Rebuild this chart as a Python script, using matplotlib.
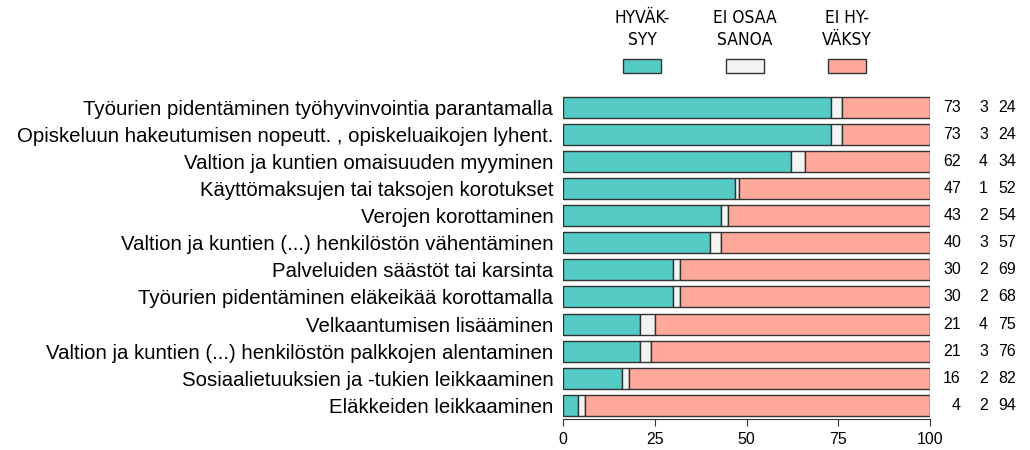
import matplotlib
matplotlib.use("Agg")
import matplotlib.pyplot as plt
import numpy as np
from matplotlib.transforms import blended_transform_factory

categories = [
    "Työurien pidentäminen työhyvinvointia parantamalla",
    "Opiskeluun hakeutumisen nopeutt. , opiskeluaikojen lyhent.",
    "Valtion ja kuntien omaisuuden myyminen",
    "Käyttömaksujen tai taksojen korotukset",
    "Verojen korottaminen",
    "Valtion ja kuntien (...) henkilöstön vähentäminen",
    "Palveluiden säästöt tai karsinta",
    "Työurien pidentäminen eläkeikää korottamalla",
    "Velkaantumisen lisääminen",
    "Valtion ja kuntien (...) henkilöstön palkkojen alentaminen",
    "Sosiaalietuuksien ja -tukien leikkaaminen",
    "Eläkkeiden leikkaaminen",
]
hyvaksyy = [73, 73, 62, 47, 43, 40, 30, 30, 21, 21, 16, 4]
ei_osaa = [3, 3, 4, 1, 2, 3, 2, 2, 4, 3, 2, 2]
ei_hyvaksy = [24, 24, 34, 52, 54, 57, 69, 68, 75, 76, 82, 94]
legend_labels = ["HYVÄK-\nSYY", "EI OSAA\nSANOA", "EI HY-\nVÄKSY"]
colors = ["#55CBC5", "#F3F3F3", "#FFA99B"]
xticks = [0, 25, 50, 75, 100]

plt.rcParams['font.family'] = ['Liberation Sans', 'DejaVu Sans']

W, H = 1030, 450
fig = plt.figure(figsize=(W / 100, H / 100), dpi=100)
ax_top, ax_bot = 93.5, 419
ax = fig.add_axes([563 / W, (H - ax_bot) / H, (930 - 563) / W, (ax_bot - ax_top) / H])

n = len(categories)
y = np.arange(n)
a = np.array(hyvaksyy, float)
b = np.array(ei_osaa, float)
total = 100.0
c_w = total - a - b
h = 0.77
ec = "#333333"
ax.barh(y, a, height=h, color=colors[0], edgecolor=ec, linewidth=1)
ax.barh(y, b, left=a, height=h, color=colors[1], edgecolor=ec, linewidth=1)
ax.barh(y, c_w, left=a + b, height=h, color=colors[2], edgecolor=ec, linewidth=1)

ax.set_xlim(0, 100)
ax.set_ylim(n - 0.5, -0.5)
for s in ["top", "right", "left"]:
    ax.spines[s].set_visible(False)
ax.spines["bottom"].set_bounds(0, 100)
ax.spines["bottom"].set_color("#333333")
ax.set_xticks(xticks)
ax.set_xticklabels([str(t) for t in xticks], fontsize=11.5)
ax.tick_params(axis="x", length=5, color="#333333", pad=4)
ax.set_yticks(y)
ax.set_yticklabels(categories, fontsize=14.7)
ax.tick_params(axis="y", length=0, pad=7)

tr = blended_transform_factory(fig.transFigure, ax.transData)
for i in range(n):
    for val, xr in zip((hyvaksyy[i], ei_osaa[i], ei_hyvaksy[i]), (961, 988, 1016)):
        fig.text(xr / W, y[i], str(val), ha="right", va="center", fontsize=11.5,
                 transform=tr)

# legend
for lab, col, xc in zip(legend_labels, colors, (642, 745, 847)):
    fig.patches.append(plt.Rectangle(((xc - 19) / W, 1 - 73 / H), 38 / W, 14 / H,
                                     transform=fig.transFigure, facecolor=col,
                                     edgecolor=ec, linewidth=1))
    fig.text(xc / W, 1 - 29 / H, lab, ha="center", va="center", fontsize=12.5,
             family="DejaVu Sans", stretch="condensed", linespacing=1.25)

fig.savefig("out.png", dpi=100)
